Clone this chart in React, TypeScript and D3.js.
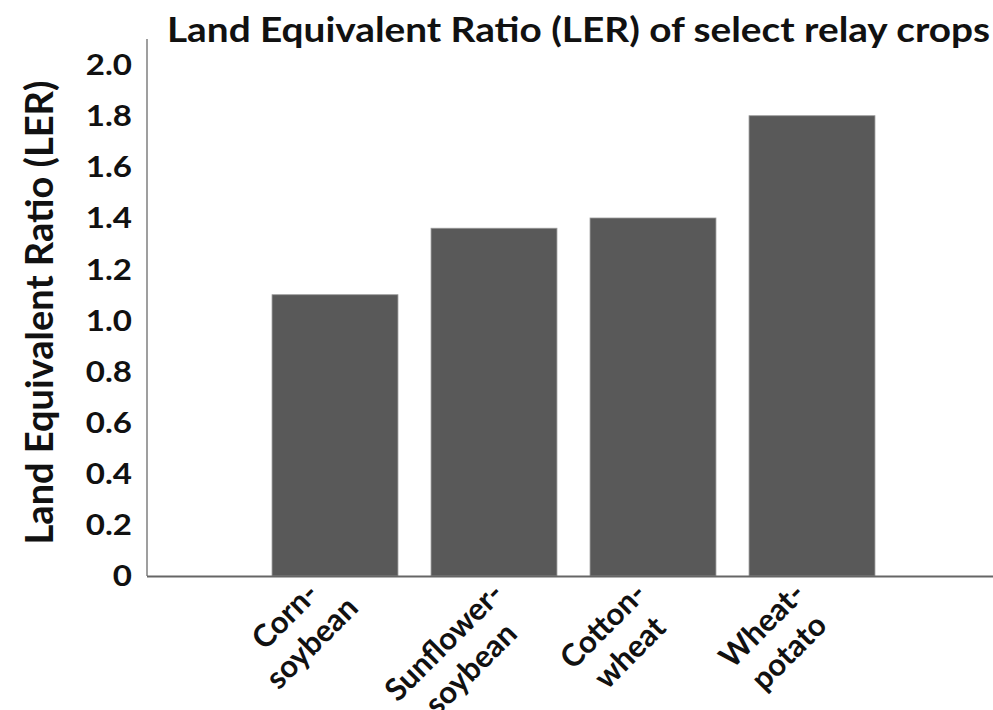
import React, { useEffect, useRef } from "react";
import * as d3 from "d3";

const categories: string[][] = [
  ["Corn-", "soybean"],
  ["Sunflower-", "soybean"],
  ["Cotton-", "wheat"],
  ["Wheat-", "potato"],
];
const lerValues: number[] = [1.1, 1.36, 1.4, 1.8];
const yTicks: number[] = [0, 0.2, 0.4, 0.6, 0.8, 1.0, 1.2, 1.4, 1.6, 1.8, 2.0];
const titleText = "Land Equivalent Ratio (LER) of select relay crops";
const yTitleText = "Land Equivalent Ratio (LER)";

const W = 993;
const H = 710;
const FONT = "Lato, 'DejaVu Sans', sans-serif";
const SX = 1.14; // horizontal text stretch seen in the reference

export default function App() {
  const ref = useRef<SVGSVGElement | null>(null);

  useEffect(() => {
    const svg = d3.select(ref.current);
    svg.selectAll("*").remove();

    const axisX = 147;
    const y = d3.scaleLinear().domain([0, 2.1]).range([576, 39]);
    const keys = categories.map((c) => c.join(""));
    const x = d3
      .scaleBand<string>()
      .domain(keys)
      .range([255.5, 891.5])
      .paddingInner(0.208)
      .paddingOuter(0.104);

    svg.append("rect").attr("width", W).attr("height", H).attr("fill", "#fff");

    // bars
    svg
      .selectAll("rect.bar")
      .data(lerValues)
      .enter()
      .append("rect")
      .attr("class", "bar")
      .attr("x", (_, i) => x(keys[i])!)
      .attr("width", x.bandwidth())
      .attr("y", (d) => y(d))
      .attr("height", (d) => y(0) - y(d))
      .attr("fill", "#595959")
      .attr("stroke", "#9a9a9a")
      .attr("stroke-width", 0.8);

    // y axis line
    svg
      .append("line")
      .attr("x1", axisX)
      .attr("x2", axisX)
      .attr("y1", y(2.1))
      .attr("y2", y(0))
      .attr("stroke", "#7f7f7f")
      .attr("stroke-width", 1.5);

    // x axis line
    svg
      .append("line")
      .attr("x1", axisX)
      .attr("x2", W)
      .attr("y1", y(0) + 0.5)
      .attr("y2", y(0) + 0.5)
      .attr("stroke", "#666")
      .attr("stroke-width", 2);

    // y tick labels
    svg
      .selectAll("text.ytick")
      .data(yTicks)
      .enter()
      .append("text")
      .attr("class", "ytick")
      .attr("transform", (d) => `translate(132,${y(d)}) scale(${SX},1)`)
      .attr("dy", "0.36em")
      .attr("text-anchor", "end")
      .attr("font-family", FONT)
      .attr("font-weight", 700)
      .attr("font-size", 29)
      .attr("fill", "#111")
      .text((d) => (d === 0 ? "0" : d3.format(".1f")(d)));

    // title
    svg
      .append("text")
      .attr("transform", `translate(167,42) scale(${SX},1)`)
      .attr("text-anchor", "start")
      .attr("font-family", FONT)
      .attr("font-weight", 700)
      .attr("font-size", 34)
      .attr("fill", "#111")
      .text(titleText);

    // y title
    svg
      .append("text")
      .attr("transform", `translate(53,312.5) rotate(-90)`)
      .attr("text-anchor", "middle")
      .attr("font-family", FONT)
      .attr("font-weight", 700)
      .attr("font-size", 38)
      .attr("fill", "#111")
      .text(yTitleText);

    // x labels (rotated, two lines, centred on a common axis)
    const fs = 31;
    const lh = 38;
    const base = fs * 0.75;
    const c45 = Math.SQRT1_2;
    categories.forEach((lines, i) => {
      const cx = x(keys[i])! + x.bandwidth() / 2;
      const g = svg.append("g");
      const inner = g.append("g").attr("transform", `rotate(-45)`);
      const texts = lines.map((ln, j) =>
        inner
          .append("text")
          .attr("x", 0)
          .attr("y", base + j * lh)
          .attr("text-anchor", "middle")
          .attr("font-family", FONT)
          .attr("font-weight", 700)
          .attr("font-size", fs)
          .attr("fill", "#111")
          .text(ln)
      );
      const widths = texts.map((t) => (t.node() as SVGTextElement).getComputedTextLength());
      const ends = widths.map((w, j) => c45 * (base + j * lh - 0.3 * fs - w / 2));
      const top = Math.min(...ends);
      const ox = cx - 59;
      const oy = 589 - top;
      g.attr("transform", `translate(${ox},${oy})`);
    });
  }, []);

  return (
    <svg
      ref={ref}
      width={W}
      height={H}
      style={{ display: "block", position: "absolute", left: 0, top: 0 }}
    />
  );
}
